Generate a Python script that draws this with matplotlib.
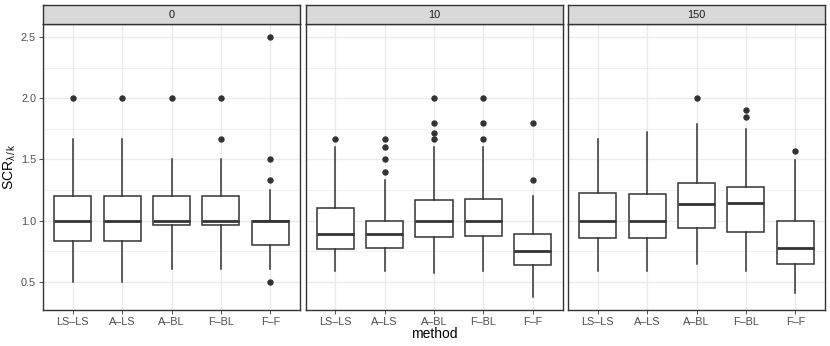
import matplotlib
matplotlib.use("Agg")
import matplotlib.pyplot as plt

plt.rcParams['font.family'] = ['Liberation Sans', 'DejaVu Sans']
plt.rcParams['mathtext.fontset'] = 'custom'
plt.rcParams['mathtext.rm'] = 'Liberation Sans'
plt.rcParams['mathtext.it'] = 'Liberation Sans'

# data
methods = ["LS\u2013LS", "A\u2013LS", "A\u2013BL", "F\u2013BL", "F\u2013F"]
facets = ["0", "10", "150"]

q1 = [[0.833, 0.833, 0.96, 0.96, 0.80],
      [0.771, 0.777, 0.869, 0.875, 0.636],
      [0.856, 0.856, 0.937, 0.910, 0.641]]
med = [[1.0, 1.0, 1.0, 1.0, 1.0],
       [0.891, 0.891, 1.0, 1.0, 0.752],
       [1.0, 1.0, 1.132, 1.146, 0.774]]
q3 = [[1.2, 1.2, 1.2, 1.2, 1.0],
      [1.102, 1.0, 1.168, 1.176, 0.891],
      [1.225, 1.216, 1.309, 1.271, 1.0]]
whis_lo = [[0.5, 0.5, 0.6, 0.6, 0.6],
           [0.587, 0.587, 0.573, 0.587, 0.378],
           [0.587, 0.587, 0.641, 0.587, 0.41]]
whis_hi = [[1.667, 1.667, 1.5, 1.5, 1.25],
           [1.6, 1.333, 1.6, 1.6, 1.2],
           [1.667, 1.727, 1.786, 1.748, 1.496]]
outliers = [[[2.0], [2.0], [2.0], [2.0, 1.667], [2.5, 1.5, 1.333, 0.5]],
            [[1.667], [1.667, 1.6, 1.5, 1.4], [2.0, 1.8, 1.716, 1.667],
             [2.0, 1.8, 1.667], [1.8, 1.333]],
            [[], [], [2.0], [1.903, 1.849], [1.572]]]

W, H = 830, 346
fig = plt.figure(figsize=(W / 100, H / 100), dpi=100)

panel_left = [43, 305.5, 568]
panel_w = 257
plot_top, plot_bot = 24, 310
strip_top = 5

dark = '#333333'
grid_col = '#EBEBEB'

for i, lab in enumerate(facets):
    ax = fig.add_axes([panel_left[i] / W, 1 - plot_bot / H,
                       panel_w / W, (plot_bot - plot_top) / H])
    stats = []
    for j in range(len(methods)):
        stats.append(dict(med=med[i][j], q1=q1[i][j], q3=q3[i][j],
                          whislo=whis_lo[i][j], whishi=whis_hi[i][j],
                          fliers=outliers[i][j]))
    ax.bxp(stats, positions=range(1, 6), widths=0.75, showcaps=False,
           patch_artist=True,
           boxprops=dict(facecolor='white', edgecolor=dark, linewidth=1.1),
           whiskerprops=dict(color=dark, linewidth=1.1),
           medianprops=dict(color=dark, linewidth=2.0),
           flierprops=dict(marker='o', markerfacecolor=dark, markeredgecolor=dark,
                           markersize=3.6, linestyle='none'),
           zorder=3)
    ax.set_xlim(0.4, 5.6)
    ax.set_ylim(0.269, 2.606)
    ax.set_yticks([0.5, 1.0, 1.5, 2.0, 2.5])
    ax.set_yticks([0.75, 1.25, 1.75, 2.25], minor=True)
    ax.set_xticks(range(1, 6))
    ax.set_xticklabels(methods)
    ax.grid(True, which='major', color=grid_col, linewidth=1.0, zorder=0)
    ax.grid(True, which='minor', axis='y', color=grid_col, linewidth=0.5, zorder=0)
    ax.set_axisbelow(True)
    ax.tick_params(which='major', length=3, width=0.6, color=dark,
                   labelsize=7.8, labelcolor='#4D4D4D', pad=2)
    ax.tick_params(which='minor', length=0)
    if i == 0:
        ax.set_yticklabels(['0.5', '1.0', '1.5', '2.0', '2.5'])
        ax.set_ylabel(r'SCR$_{\lambda\,/\,k}$', fontsize=10, labelpad=2)
    else:
        ax.tick_params(axis='y', which='both', left=False, labelleft=False)
    for s in ax.spines.values():
        s.set_color(dark)
        s.set_linewidth(1.0)

    # facet strip
    sax = fig.add_axes([panel_left[i] / W, 1 - plot_top / H,
                        panel_w / W, (plot_top - strip_top) / H])
    sax.set_xticks([])
    sax.set_yticks([])
    sax.set_facecolor('#D9D9D9')
    for s in sax.spines.values():
        s.set_color(dark)
        s.set_linewidth(1.0)
    sax.text(0.5, 0.5, lab, ha='center', va='center', fontsize=7.8,
             color='#1A1A1A', transform=sax.transAxes)

fig.text((panel_left[0] + panel_left[2] + panel_w) / 2 / W, 1 - 334 / H, 'method',
         ha='center', va='center', fontsize=10)

fig.savefig('out.png', dpi=100)
